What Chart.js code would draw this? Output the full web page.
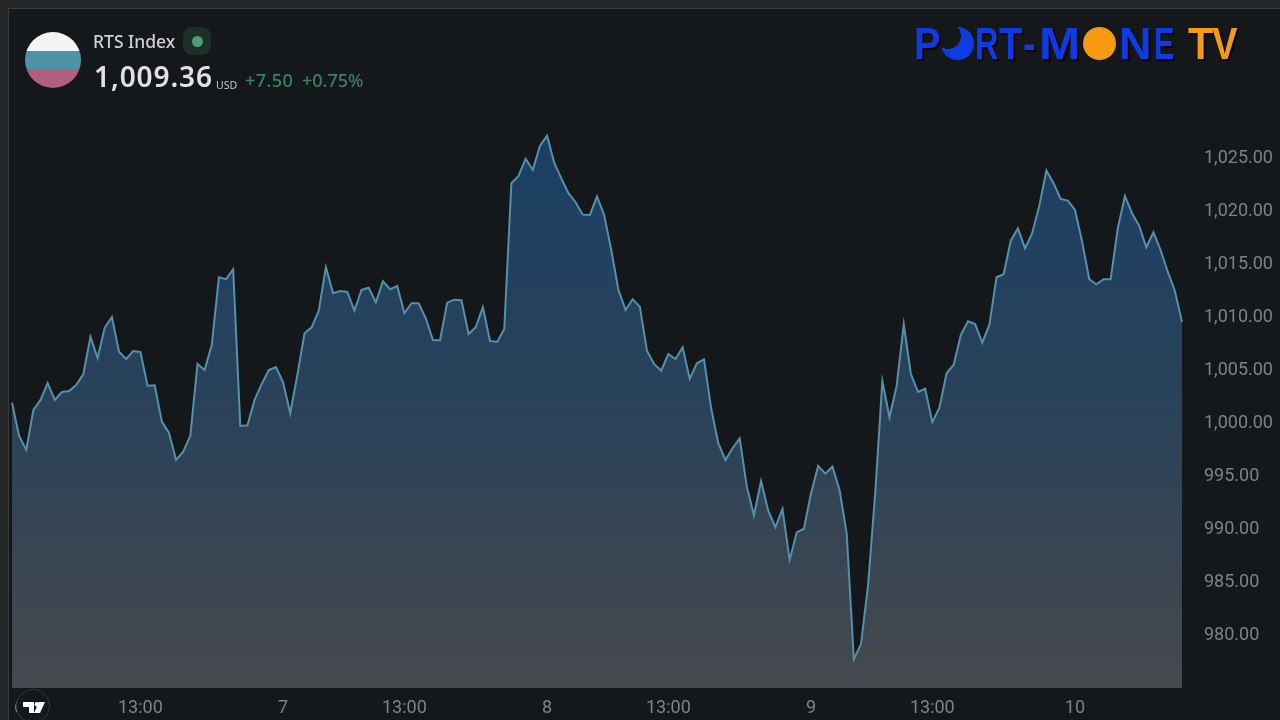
<!DOCTYPE html>
<html>
<head>
<meta charset="utf-8">
<title>RTS Index</title>
<script src="https://cdn.jsdelivr.net/npm/chart.js@4/dist/chart.umd.min.js"></script>
<style>
    html, body { margin: 0; padding: 0; background: #262728; }
    body { width: 1280px; height: 720px; position: relative; overflow: hidden; font-family: Roboto, sans-serif; }
    #panel { position: absolute; left: 8px; top: 8px; width: 1272px; height: 712px; background: #15181b; border-left: 1px solid #3a3b3c; border-top: 1px solid #3a3b3c; box-sizing: border-box; }
    #bpmChart { position: absolute; left: 0; top: 0; }
    .abs { position: absolute; white-space: nowrap; }
    #flag { left: 25px; top: 32px; width: 56px; height: 56px; border-radius: 50%; background: linear-gradient(#f4f4f4 0 34%, #4f93a6 34% 66%, #b25f7f 66%); }
    #name { left: 93px; top: 29px; font-size: 17.5px; font-weight: 500; color: #cfd1d4; font-family: "Noto Sans", sans-serif; }
    #dotBox { left: 183px; top: 27px; width: 28px; height: 28px; border-radius: 9px; background: #1e2f2a; }
    #dot { left: 192px; top: 36px; width: 11px; height: 11px; border-radius: 50%; background: #4f9e78; }
    #price { left: 94px; top: 57px; font-size: 28px; font-weight: 600; color: #dfe1e3; font-family: "Noto Sans", sans-serif; letter-spacing: .9px; }
    #usd { left: 216px; top: 78px; font-size: 10.5px; color: #c4c6c9; font-family: "Noto Sans", sans-serif; }
    #chg, #pct { top: 68px; font-size: 18px; font-weight: 500; color: #3b8063; font-family: "Noto Sans", sans-serif; }
    #chg { left: 245px; letter-spacing: .4px; }
    #pct { left: 302px; }
    .lg { position: absolute; top: 18px; font: 700 45px/52px "Liberation Sans", sans-serif; color: #0f3ce2; text-shadow: 2px 2px 1px #000; transform-origin: left top; }
    .lg.or { color: #f59a12; }
    .disc { position: absolute; top: 27px; width: 33px; height: 33px; border-radius: 50%; color: transparent; font: 700 10px/33px "Liberation Sans", sans-serif; overflow: hidden; text-align: center; }
    #badge { left: 16px; top: 689px; width: 34px; height: 34px; border-radius: 50%; background: #15181b; border: 1px solid #35383b; box-sizing: border-box; }
</style>
</head>
<body>
<div id="panel"></div>
<canvas id="bpmChart" width="1280" height="720"></canvas>

<div class="abs" id="flag"></div>
<div class="abs" id="name">RTS Index</div>
<div class="abs" id="dotBox"></div>
<div class="abs" id="dot"></div>
<div class="abs" id="price">1,009.36</div>
<div class="abs" id="usd">USD</div>
<div class="abs" id="chg">+7.50</div>
<div class="abs" id="pct">+0.75%</div>

<div id="logo">
    <span class="lg" style="left:914px;transform:scaleX(.88)">P</span>
    <span class="disc" style="left:941px;background:radial-gradient(circle 13px at 7px 9px,#15181b 98%,#0f3ce2)">O</span>
    <span class="lg" style="left:975px;transform:scaleX(.72)">R</span>
    <span class="lg" style="left:999px;transform:scaleX(.85)">T</span>
    <span class="lg" style="left:1023px;transform:scaleX(.85)">-</span>
    <span class="lg" style="left:1039px;transform:scaleX(1.1)">M</span>
    <span class="disc" style="left:1083px;background:#f59a12">O</span>
    <span class="lg" style="left:1119px;transform:scaleX(1)">N</span>
    <span class="lg" style="left:1154px;transform:scaleX(.68)">E</span>
    <span class="lg or" style="left:1188px;transform:scaleX(.92)">T</span>
    <span class="lg or" style="left:1212px;transform:scaleX(.85)">V</span>
</div>

<div class="abs" id="badge">
    <svg width="32" height="32" viewBox="0 0 32 32" style="display:block">
        <path d="M6 12h11v11h-5v-6H6z M28 12l-5 11h-6l5-11z" fill="#fff"/>
        <circle cx="20" cy="14.3" r="2.4" fill="#fff"/>
    </svg>
</div>

<script>
// Values (one every 7 px or so)
const closeValues = [
    1001.75, 998.61, 997.29, 1001.06, 1002.01, 1003.61, 1002.01, 1002.76, 1002.86, 1003.42,
    1004.46, 1007.99, 1005.97, 1008.84, 1009.85, 1006.57, 1005.88, 1006.63, 1006.54, 1003.36,
    1003.40, 999.96, 998.92, 996.34, 997.13, 998.64, 1005.41, 1004.84, 1007.20, 1013.59,
    1013.41, 1014.35, 999.55, 999.62, 1002.01, 1003.52, 1004.84, 1005.12, 1003.68, 1000.75,
    1004.37, 1008.31, 1008.87, 1010.44, 1014.54, 1012.08, 1012.30, 1012.21, 1010.44, 1012.40,
    1012.61, 1011.23, 1013.22, 1012.46, 1012.77, 1010.20, 1011.14, 1011.14, 1009.72, 1007.67,
    1007.65, 1011.20, 1011.48, 1011.42, 1008.24, 1008.87, 1010.76, 1007.58, 1007.48, 1008.71,
    1022.47, 1023.16, 1024.77, 1023.73, 1025.99, 1026.97, 1024.42, 1022.94, 1021.53, 1020.68,
    1019.51, 1019.48, 1021.21, 1019.48, 1016.17, 1012.40, 1010.51, 1011.52, 1010.82, 1006.66,
    1005.41, 1004.77, 1006.35, 1005.88, 1006.98, 1003.99, 1005.47, 1005.85, 1001.22, 997.92,
    996.34, 997.45, 998.39, 993.82, 991.12, 994.36, 991.55, 989.99, 991.71, 986.90,
    989.51, 989.85, 993.20, 995.78, 995.05, 995.71, 993.51, 989.42, 977.52, 978.94,
    984.54, 993.23, 1003.80, 1000.37, 1003.33, 1009.16, 1004.46, 1002.76, 1003.07, 999.90,
    1001.28, 1004.53, 1005.34, 1008.15, 1009.44, 1009.18, 1007.42, 1009.09, 1013.59, 1013.88,
    1017.05, 1018.22, 1016.33, 1017.75, 1020.36, 1023.66, 1022.47, 1020.99, 1020.83, 1019.95,
    1016.96, 1013.41, 1012.93, 1013.41, 1013.41, 1018.22, 1021.27, 1019.64, 1018.44, 1016.43,
    1017.84, 1016.17, 1014.12, 1012.33, 1009.36
];
const xTickIndex = [1, 18, 38, 55, 75, 92, 112, 129, 149];
const xTickLabels = ["6", "13:00", "7", "13:00", "8", "13:00", "9", "13:00", "10"];
const yTickValues = [980, 985, 990, 995, 1000, 1005, 1010, 1015, 1020, 1025];

const labels = closeValues.map((v, i) => i);
const axisColor = "#7f8285";
const axisFont = { family: "Roboto, sans-serif", size: 18 };

function areaGradient(context) {
    const area = context.chart.chartArea;
    if (!area) return "#2a4259";
    const g = context.chart.ctx.createLinearGradient(0, 135, 0, area.bottom);
    g.addColorStop(0, "#1b4064");
    g.addColorStop(0.5, "#2a4259");
    g.addColorStop(1, "#46494d");
    return g;
}

const ctx = document.getElementById("bpmChart").getContext("2d");

const rtsChart = new Chart(ctx, {
    type: "line",
    data: {
        labels: labels,
        datasets: [{
            label: "RTS Index",
            data: closeValues,
            borderColor: "#5590ac",
            borderWidth: 2,
            backgroundColor: areaGradient,
            pointRadius: 0,
            tension: 0,
            fill: "start"
        }]
    },
    options: {
        responsive: false,
        animation: false,
        layout: { padding: { left: 12, top: 110, right: 0, bottom: 0 } },
        plugins: { legend: { display: false }, tooltip: { enabled: false } },
        scales: {
            x: {
                type: "category",
                offset: false,
                grid: { display: false },
                border: { display: false },
                afterFit: (scale) => { scale.height = 32; },
                ticks: {
                    color: axisColor,
                    font: axisFont,
                    autoSkip: false,
                    maxRotation: 0,
                    padding: 2,
                    callback: (value) => {
                        const at = xTickIndex.indexOf(value);
                        return at >= 0 ? xTickLabels[at] : null;
                    }
                }
            },
            y: {
                position: "right",
                min: 974.81,
                max: 1029.39,
                grid: { display: false },
                border: { display: false },
                afterFit: (scale) => { scale.width = 98; },
                afterBuildTicks: (scale) => { scale.ticks = yTickValues.map((v) => ({ value: v })); },
                ticks: {
                    color: axisColor,
                    font: axisFont,
                    padding: 14,
                    labelOffset: 2,
                    callback: (value) => value.toLocaleString("en-US", { minimumFractionDigits: 2, maximumFractionDigits: 2 })
                }
            }
        }
    }
});
</script>
</body>
</html>
